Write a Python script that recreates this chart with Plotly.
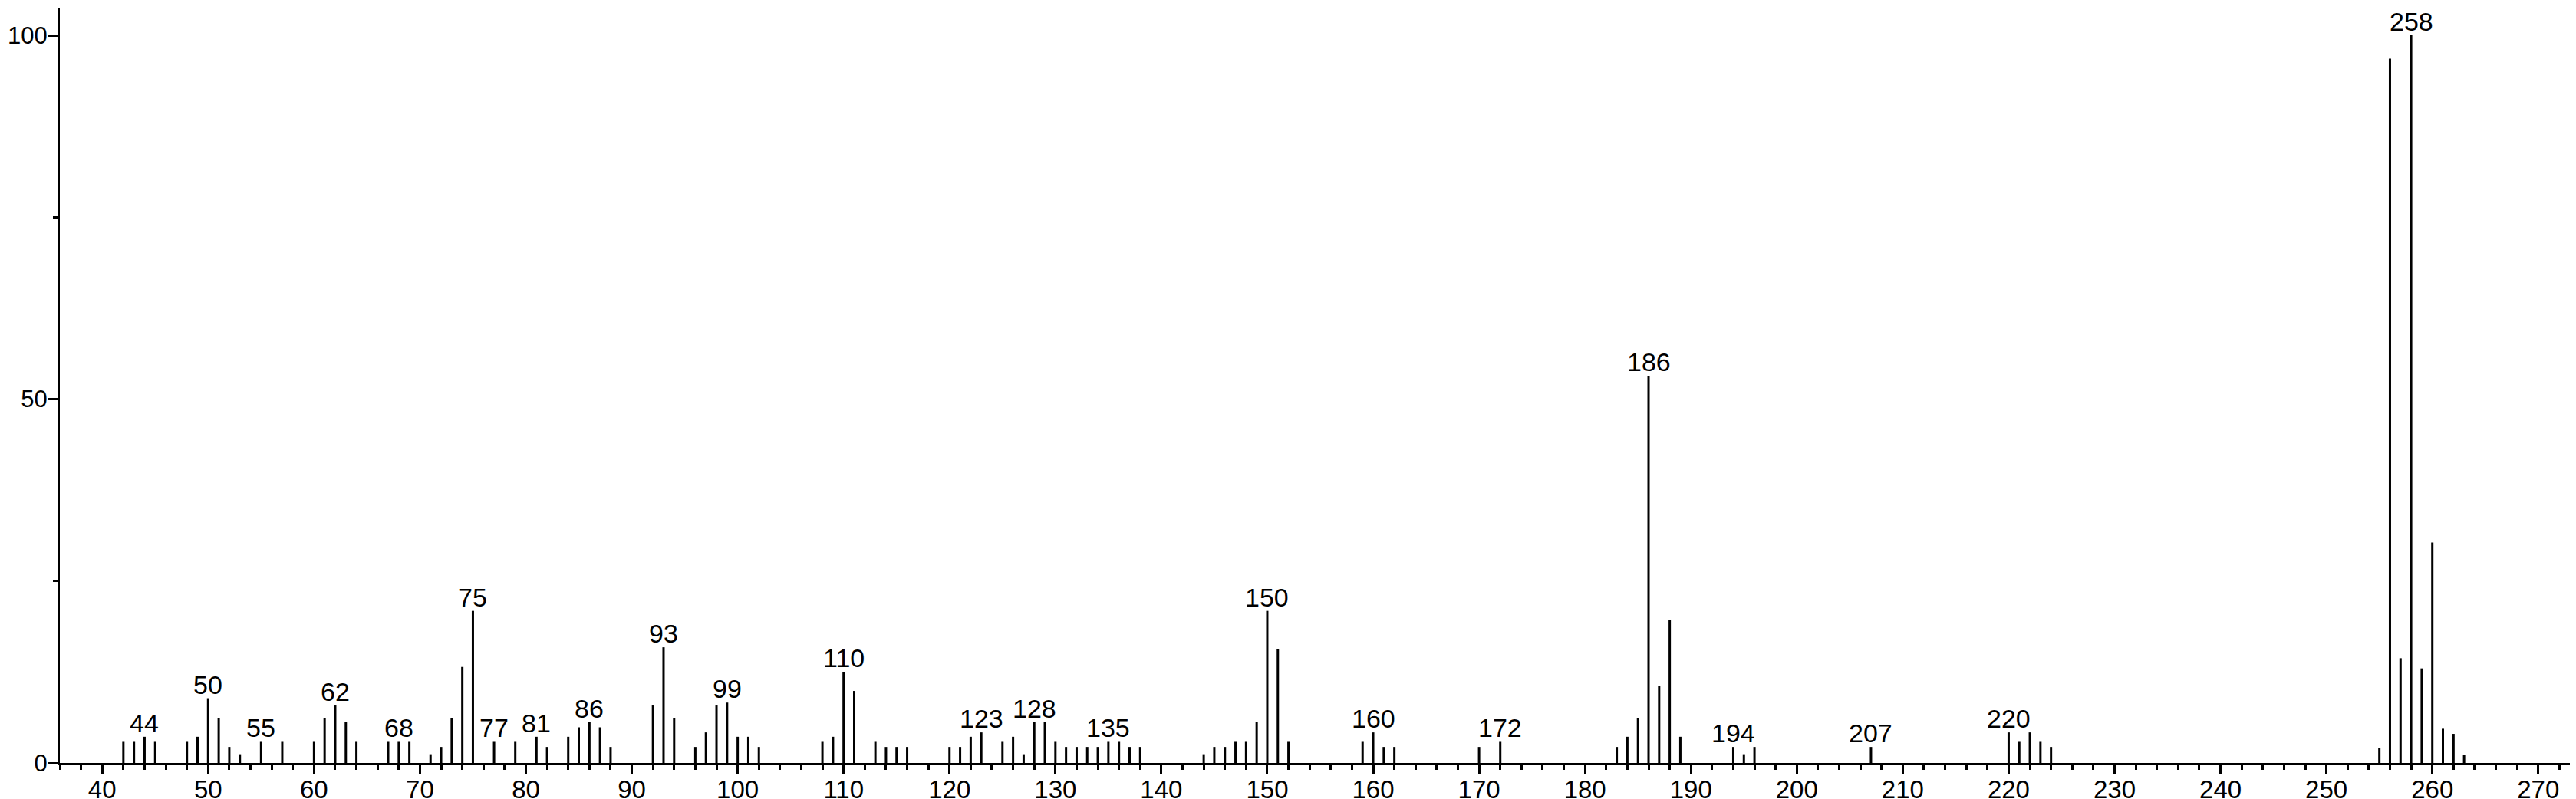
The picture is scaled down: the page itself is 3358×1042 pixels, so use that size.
import plotly.graph_objects as go

# m/z values of the peaks
mz = [42, 43, 44, 45, 48, 49, 50, 51, 52, 53, 55, 57, 60, 61, 62, 63, 64, 67, 68, 69,
      71, 72, 73, 74, 75, 77, 79, 81, 82, 84, 85, 86, 87, 88, 92, 93, 94, 96, 97, 98,
      99, 100, 101, 102, 108, 109, 110, 111, 113, 114, 115, 116, 120, 121, 122, 123,
      125, 126, 127, 128, 129, 130, 131, 132, 133, 134, 135, 136, 137, 138, 144, 145,
      146, 147, 148, 149, 150, 151, 152, 159, 160, 161, 162, 170, 172, 183, 184, 185,
      186, 187, 188, 189, 194, 195, 196, 207, 220, 221, 222, 223, 224, 255, 256, 257,
      258, 259, 260, 261, 262, 263]

# relative intensities (%)
intensity = [2.9, 2.9, 3.6, 2.9, 2.9, 3.6, 8.9, 6.2, 2.2, 1.2, 2.9, 2.9, 2.9, 6.2, 7.9, 5.6, 2.9, 2.9, 2.9, 2.9,
             1.2, 2.2, 6.2, 13.2, 20.9, 2.9, 2.9, 3.6, 2.2, 3.6, 4.9, 5.6, 4.9, 2.2, 7.9, 15.9, 6.2, 2.2, 4.2, 7.9,
             8.3, 3.6, 3.6, 2.2, 2.9, 3.6, 12.5, 9.9, 2.9, 2.2, 2.2, 2.2, 2.2, 2.2, 3.6, 4.2,
             2.9, 3.6, 1.2, 5.6, 5.6, 2.9, 2.2, 2.2, 2.2, 2.2, 2.9, 2.9, 2.2, 2.2, 1.2, 2.2,
             2.2, 2.9, 2.9, 5.6, 20.9, 15.6, 2.9, 2.9, 4.2, 2.2, 2.2, 2.2, 2.9, 2.2, 3.6, 6.2,
             53.2, 10.6, 19.6, 3.6, 2.2, 1.2, 2.2, 2.2, 4.2, 2.9, 4.2, 2.9, 2.2, 2.1, 96.8, 14.4,
             100.0, 13.0, 30.3, 4.7, 4.0, 1.1]

# peaks that carry a m/z label
labeled = [44, 50, 55, 62, 68, 75, 77, 81, 86, 93, 99, 110, 123, 128, 135, 150, 160,
           172, 186, 194, 207, 220, 258]

x_ticks = list(range(40, 271, 10))
x_ticklabels = [str(v) for v in x_ticks]
y_ticks = [0, 50, 100]
y_ticklabels = ["0", "50", "100"]

FONT = "Liberation Sans, Arial, sans-serif"
FS = 34

xs, ys = [], []
for m, i in zip(mz, intensity):
    xs += [m, m, None]
    ys += [0, i, None]

fig = go.Figure()
fig.add_trace(go.Scatter(x=xs, y=ys, mode="lines",
                         line=dict(color="black", width=3),
                         hoverinfo="skip", showlegend=False))

lookup = dict(zip(mz, intensity))
for m in labeled:
    fig.add_annotation(x=m, y=lookup[m], text=str(m), showarrow=False,
                       xanchor="center", yanchor="bottom", yshift=-3,
                       font=dict(family=FONT, size=FS, color="black"))

fig.update_layout(
    width=3358, height=1042,
    margin=dict(l=70, r=2, t=2, b=55, autoexpand=False),
    paper_bgcolor="white", plot_bgcolor="white",
    showlegend=False,
    font=dict(family=FONT, size=FS, color="black"),
)
fig.update_xaxes(range=[36, 274], showgrid=False, zeroline=False, automargin=False,
                 showline=True, linecolor="black", linewidth=3,
                 tickmode="array", tickvals=x_ticks, ticktext=x_ticklabels,
                 ticks="outside", ticklen=12, tickwidth=3, tickcolor="black",
                 ticklabelstandoff=-9,
                 tickfont=dict(family=FONT, size=33, color="black"),
                 minor=dict(dtick=2, tick0=0, ticks="outside", ticklen=6,
                            tickwidth=3, tickcolor="black", showgrid=False))
fig.update_yaxes(range=[0, 103.8], showgrid=False, zeroline=False, automargin=False,
                 showline=True, linecolor="black", linewidth=3,
                 tickmode="array", tickvals=y_ticks, ticktext=y_ticklabels,
                 ticks="outside", ticklen=12, tickwidth=3, tickcolor="black",
                 ticklabelstandoff=-5,
                 tickfont=dict(family=FONT, size=31, color="black"),
                 minor=dict(dtick=25, tick0=0, ticks="outside", ticklen=6,
                            tickwidth=3, tickcolor="black", showgrid=False))

fig.write_html("out.html")
